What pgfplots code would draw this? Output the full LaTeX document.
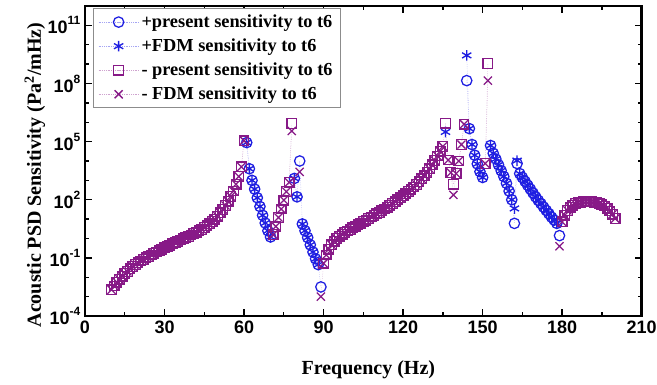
\documentclass[border=0pt]{standalone}
\usepackage{fontspec}
\setmainfont{Liberation Serif}
\setsansfont{Liberation Sans}
\usepackage{pgfplots}
\pgfplotsset{compat=1.18}
\usepackage{pgfplotstable}
\definecolor{pblue}{RGB}{30,30,225}
\definecolor{ppurple}{RGB}{135,25,135}
\newcommand{\tickfont}{\fontsize{13.5}{15}\selectfont\sffamily\bfseries}
\newcommand{\labfont}{\fontsize{15}{17}\selectfont\rmfamily\bfseries}
\newcommand{\legfont}{\fontsize{13.75}{15}\selectfont\rmfamily\bfseries}
\newcommand{\ex}[1]{10\raisebox{0.5em}{\fontsize{9}{10}\selectfont #1}}

\pgfplotstableread{
f pp pf mp mf
10 nan nan 2.24e-3 2.24e-3
11 nan nan 3.55e-3 3.55e-3
12 nan nan 5.62e-3 5.62e-3
13 nan nan 7.94e-3 7.94e-3
14 nan nan 1.12e-2 1.12e-2
15 nan nan 1.58e-2 1.58e-2
16 nan nan 2.00e-2 2.00e-2
17 nan nan 2.69e-2 2.69e-2
18 nan nan 3.55e-2 3.55e-2
19 nan nan 4.47e-2 4.47e-2
20 nan nan 5.62e-2 5.62e-2
21 nan nan 6.92e-2 6.92e-2
22 nan nan 8.32e-2 8.32e-2
23 nan nan 1.00e-1 1.00e-1
24 nan nan 1.17e-1 1.17e-1
25 nan nan 1.41e-1 1.41e-1
26 nan nan 1.66e-1 1.66e-1
27 nan nan 2.00e-1 2.00e-1
28 nan nan 2.34e-1 2.34e-1
29 nan nan 2.82e-1 2.82e-1
30 nan nan 3.31e-1 3.31e-1
31 nan nan 3.89e-1 3.89e-1
32 nan nan 4.47e-1 4.47e-1
33 nan nan 5.25e-1 5.25e-1
34 nan nan 6.03e-1 6.03e-1
35 nan nan 7.08e-1 7.08e-1
36 nan nan 8.32e-1 8.32e-1
37 nan nan 9.55e-1 9.55e-1
38 nan nan 1.12 1.12
39 nan nan 1.29 1.29
40 nan nan 1.51 1.51
41 nan nan 1.78 1.78
42 nan nan 2.09 2.09
43 nan nan 2.51 2.51
44 nan nan 2.95 2.95
45 nan nan 3.63 3.63
46 nan nan 4.57 4.57
47 nan nan 5.75 5.75
48 nan nan 7.41 7.41
49 nan nan 10.0 10.0
50 nan nan 14.1 14.1
51 nan nan 20.9 20.9
52 nan nan 31.6 31.6
53 nan nan 50.1 50.1
54 nan nan 83.2 83.2
55 nan nan 148 148
56 nan nan 282 282
57 nan nan 631 631
58 nan nan 1580 1580
59 nan nan 5010 5010
60 nan nan 1.12e5 1.12e5
61 8.91e4 8.91e4 nan nan
62 3980 3980 nan nan
63 1000 1000 nan nan
64 355 355 nan nan
65 126 126 nan nan
66 44.7 44.7 nan nan
67 15.8 15.8 nan nan
68 6.31 6.31 nan nan
69 2.51 2.51 nan nan
70 1.20 1.20 nan nan
71 nan nan 1.58 1.58
72 nan nan 4.17 4.17
73 nan nan 12.0 12.0
74 nan nan 33.1 33.1
75 nan nan 95.5 95.5
76 nan nan 263 263
77 nan nan 794 794
78 nan nan 8.51e5 3.55e5
79 1260 1260 nan nan
80 141 141 nan nan
81 1.00e4 nan nan 2750
82 5.62 5.62 nan nan
83 2.51 2.51 nan nan
84 1.12 1.12 nan nan
85 0.468 0.468 nan nan
86 0.200 0.200 nan nan
87 0.0891 0.0891 nan nan
88 0.0447 0.0447 nan nan
89 3.16e-3 nan nan 1.00e-3
90 nan nan 0.0525 0.0525
91 nan nan 0.141 0.141
92 nan nan 0.282 0.282
93 nan nan 0.479 0.479
94 nan nan 0.724 0.724
95 nan nan 1.00 1.00
96 nan nan 1.32 1.32
97 nan nan 1.66 1.66
98 nan nan 2.04 2.04
99 nan nan 2.45 2.45
100 nan nan 2.95 2.95
101 nan nan 3.55 3.55
102 nan nan 4.27 4.27
103 nan nan 5.13 5.13
104 nan nan 6.17 6.17
105 nan nan 7.41 7.41
106 nan nan 8.91 8.91
107 nan nan 10.7 10.7
108 nan nan 12.9 12.9
109 nan nan 15.5 15.5
110 nan nan 18.6 18.6
111 nan nan 22.4 22.4
112 nan nan 26.9 26.9
113 nan nan 33.1 33.1
114 nan nan 40.7 40.7
115 nan nan 50.1 50.1
116 nan nan 63.1 63.1
117 nan nan 79.4 79.4
118 nan nan 100 100
119 nan nan 126 126
120 nan nan 158 158
121 nan nan 204 204
122 nan nan 263 263
123 nan nan 347 347
124 nan nan 457 457
125 nan nan 617 617
126 nan nan 851 851
127 nan nan 1200 1200
128 nan nan 1740 1740
129 nan nan 2570 2570
130 nan nan 3980 3980
131 nan nan 6310 6310
132 nan nan 1.05e4 1.05e4
133 nan nan 1.82e4 1.82e4
134 nan nan 3.16e4 3.16e4
135 nan nan 5.62e4 5.62e4
136 nan 3.16e5 8.91e5 nan
137 nan nan 1.12e4 1.12e4
138 nan nan 2510 2510
139 nan nan 631 178
140 nan nan 2240 2240
141 nan nan 1.00e4 1.00e4
142 nan nan 7.08e4 7.08e4
143 nan nan 7.94e5 7.94e5
144 1.41e8 2.82e9 nan nan
145 4.68e5 4.68e5 nan nan
146 7.08e4 7.08e4 nan nan
147 2.00e4 2.00e4 nan nan
148 7080 7080 nan nan
149 2820 2820 nan nan
150 1410 1410 nan nan
151 nan nan 7410 7410
152 nan nan 1.07e9 1.41e8
153 6.31e4 6.31e4 nan nan
154 2.51e4 2.51e4 nan nan
155 1.26e4 1.26e4 nan nan
156 6310 6310 nan nan
157 3160 3160 nan nan
158 1580 1580 nan nan
159 708 708 nan nan
160 282 282 nan nan
161 100 100 nan nan
162 6.03 35.5 nan nan
163 7410 1.05e4 nan nan
164 2240 2240 nan nan
165 1410 1410 nan nan
166 891 891 nan nan
167 562 562 nan nan
168 355 355 nan nan
169 224 224 nan nan
170 141 141 nan nan
171 93.3 93.3 nan nan
172 63.1 63.1 nan nan
173 41.7 41.7 nan nan
174 28.2 28.2 nan nan
175 19.1 19.1 nan nan
176 12.6 12.6 nan nan
177 8.91 8.91 nan nan
178 6.03 6.03 nan nan
179 1.41 nan nan 0.398
180 nan nan 7.24 7.24
181 nan nan 15.8 15.8
182 nan nan 28.2 28.2
183 nan nan 41.7 41.7
184 nan nan 52.5 52.5
185 nan nan 63.1 63.1
186 nan nan 70.8 70.8
187 nan nan 75.9 75.9
188 nan nan 79.4 79.4
189 nan nan 81.3 81.3
190 nan nan 81.3 81.3
191 nan nan 79.4 79.4
192 nan nan 75.9 75.9
193 nan nan 70.8 70.8
194 nan nan 64.6 64.6
195 nan nan 57.5 57.5
196 nan nan 47.9 47.9
197 nan nan 37.2 37.2
198 nan nan 26.3 26.3
199 nan nan 17.8 17.8
200 nan nan 10.7 10.7
}\datatable

\begin{document}
\begin{tikzpicture}
\useasboundingbox (-63.75pt,-51.75pt) rectangle (429pt,237pt);
\begin{axis}[
  at={(0pt,0pt)}, anchor=south west,
  scale only axis, width=417.5pt, height=232.5pt,
  xmin=0, xmax=210, ymode=log, ymin=1e-4, ymax=1e12,
  xtick={0,30,...,210}, minor xtick={15,45,...,195},
  ytick={1e-4,1e-1,1e2,1e5,1e8,1e11},
  yticklabels={\ex{-4},\ex{-1},\ex{2},\ex{5},\ex{8},\ex{11}},
  minor ytick={1e-3,1e-2,1,10,1e3,1e4,1e6,1e7,1e9,1e10},
  tick align=inside, major tick length=5pt, minor tick length=3pt,
  axis line style={line width=1.1pt},
  y axis line style={line width=2pt},
  every tick/.style={black, line width=1pt},
  ticklabel style={font=\tickfont},
  /pgf/number format/assume math mode=true,
  xlabel={Frequency (Hz)},
  ylabel={Acoustic PSD Sensitivity (Pa\textsuperscript{2}/mHz)},
  label style={font=\labfont},
  xlabel style={at={(axis description cs:0.509,-0.174)}, anchor=center},
  ylabel style={at={(axis description cs:-0.09,0.455)}, anchor=center},
  unbounded coords=jump,
  legend style={at={(axis description cs:0.014,0.992)}, anchor=north west,
    draw=black!45, line width=0.4pt, font=\legfont, fill=white,
    inner xsep=4pt, inner ysep=2.5pt, row sep=3pt},
  legend cell align=left,
  legend image code/.code={\draw[mark repeat=2,mark phase=2,#1] plot coordinates {(0pt,0pt) (15pt,0pt) (30pt,0pt)};},
]
\addplot[color=pblue!40, line width=0.35pt, densely dotted, mark=o, mark size=3.9pt,
  mark options={solid, draw=pblue, line width=0.95pt}] table[x=f,y=pp]{\datatable};
\addplot[color=pblue!40, line width=0.35pt, densely dotted, mark=asterisk, mark size=4pt,
  mark options={solid, draw=pblue, line width=1pt}] table[x=f,y=pf]{\datatable};
\addplot[color=ppurple!40, line width=0.35pt, densely dotted, mark=square, mark size=3.6pt,
  mark options={solid, draw=ppurple, line width=0.95pt}] table[x=f,y=mp]{\datatable};
\addplot[color=ppurple!40, line width=0.35pt, densely dotted, mark=x, mark size=4.3pt,
  mark options={solid, draw=ppurple, line width=0.95pt}] table[x=f,y=mf]{\datatable};
\legend{+present sensitivity to t6, +FDM sensitivity to t6, - present sensitivity to t6, - FDM sensitivity to t6}
\end{axis}
\end{tikzpicture}
\end{document}
